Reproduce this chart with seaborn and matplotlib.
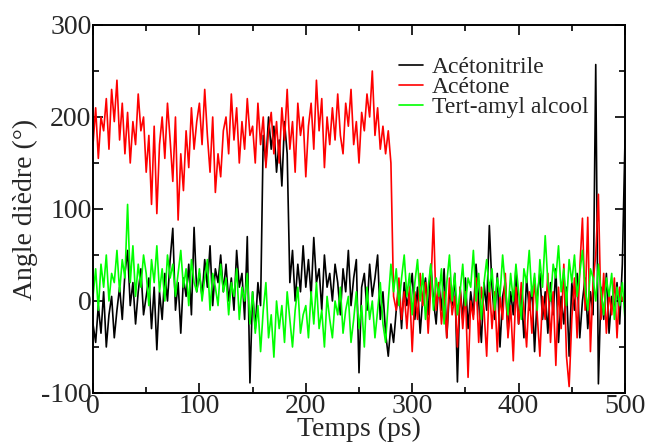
import numpy as np
import pandas as pd
import matplotlib
matplotlib.use("Agg")
import matplotlib.pyplot as plt
from matplotlib.ticker import MultipleLocator
import seaborn as sns

# time grid (ps), one sample every 2.5 ps
temps = np.arange(0, 500.1, 2.5)

acetone = [
    170, 210, 155, 200, 185, 220, 165, 230, 195, 240,
    175, 215, 160, 205, 150, 195, 170, 225, 185, 200,
    140, 180, 105, 190, 95, 170, 200, 155, 215, 175,
    130, 200, 88, 160, 120, 185, 145, 210, 165, 195,
    215, 170, 230, 180, 140, 200, 118, 160, 135, 185,
    200, 160, 225, 175, 210, 150, 195, 165, 220, 180,
    190, 150, 215, 170, 200, 145, 185, 205, 160, 195,
    150, 210, 175, 230, 165, 195, 140, 215, 180, 200,
    135, 190, 215, 165, 240, 185, 220, 145, 200, 170,
    210, 175, 225, 180, 160, 215, 190, 230, 170, 195,
    150, 205, 185, 225, 200, 250, 180, 210, 165, 190,
    160, 185, 150, 5, -10, 25, -20, 10, -30, 15,
    -55, 10, -20, 30, -5, 20, -35, 15, 90, -10,
    20, -25, 10, -40, 25, -15, 5, -50, 15, -30,
    10, -83, 0, -20, 25, -45, 15, -10, -60, 20,
    -30, 10, -55, 5, -20, 30, -40, -5, -65, 15,
    -25, 20, -10, -50, 10, -35, 25, -15, -60, 5,
    -20, 30, -45, 10, -70, 15, -30, 40, -60, -93,
    -20, 25, -40, 35, 90, -10, 91, -55, 20, 50,
    116, -20, 30, -35, 10, -15, 25, -40, 15, 0,
    10,
]

acetonitrile = [
    -25, -45, -5, -35, 10, -50, -15, 5, -40, -10,
    15, -20, 30, 55, -5, 20, -25, 10, 35, -15,
    5, 25, -30, 15, -53, 10, -20, 30, 0, 45,
    79, -10, 20, -35, 25, 5, 40, -15, 80, 10,
    30, 5, 45, 15, 60, -5, 35, 20, 50, 10,
    40, 0, 25, -10, 55, 15, 30, -20, 70, -89,
    10, -30, 20, -5, 180, 150, 200, 165, 190, 140,
    175, 125, 195, 160, 20, 55, 0, 40, 10, 60,
    15, 45, 5, 69, 20, 35, -10, 50, 15, 30,
    0, 40, 20, -15, 35, 10, 55, -5, 25, 45,
    -78, 15, 30, -10, 40, 5, 25, 50, -20, 10,
    -35, -60, -25, -45, -10, 15, -30, 20, -5, 10,
    30, -20, 15, -35, 5, 25, -15, 40, 0, -25,
    20, -10, 35, -40, 10, -5, 30, -88, 15, -20,
    25, -30, 10, -15, 40, 0, -45, 20, -10, 82,
    15, -20, 30, -50, 5, 20, -35, 10, -15, 35,
    -25, 10, -40, 25, -10, 15, -55, 5, 30, -20,
    10, -35, 20, -15, 35, -45, 5, -25, 15, -60,
    20, -10, 30, -40, 0, 25, -30, 10, -15, 257,
    -90, 15, -20, 30, -35, 5, -10, 20, -25, 40,
    175,
]

tert_amyl = [
    5, 35, -10, 40, 15, 50, 0, 30, 20, 55,
    10, 45, 25, 105, 20, 60, 5, 40, 15, 50,
    30, -5, 45, 20, 60, 10, 35, 0, 50, 25,
    40, 5, 30, 55, 15, 35, -5, 45, 20, 10,
    35, 0, 25, 45, -10, 30, 15, -5, 40, 10,
    25, -15, 20, 5, 35, -20, 15, 0, 30, -25,
    10, -35, -5, -55, -10, 20, -40, -15, -61, 0,
    -30, -5, -45, 10, -20, -50, -10, 15, -35, -15,
    -5, -40, 10, -25, 20, -30, -10, -50, 5, -20,
    -40, 0, -15, 15, -35, -10, 5, -45, -20, 10,
    -30, -5, -50, 15, -20, 0, -40, -10, 20, -25,
    -45, 0, 40, 10, 35, -5, 25, 50, 5, 30,
    -15, 20, 45, 0, 30, -20, 15, 40, -10, 25,
    5, 35, -25, 20, 50, 0, 30, -15, 10, 40,
    -5, 25, 15, 55, 0, 30, -20, 20, 45, 10,
    35, -10, 25, 5, 50, 15, -15, 30, 0, 40,
    10, -20, 35, 20, 55, 5, 30, -10, 45, 15,
    71, 20, 0, 40, 25, 60, 10, 35, -5, 45,
    20, 50, 5, 30, 55, 15, -10, 35, 25, 0,
    40, 10, -15, 25, 5, 30, -20, 15, -5, 20,
    -20,
]

series_names = ["Acétonitrile", "Acétone", "Tert-amyl alcool"]
series_colors = ["#000000", "#ff0000", "#00ff00"]

df = pd.concat([
    pd.DataFrame({"Temps": temps, "Angle": acetonitrile, "Solvant": series_names[0]}),
    pd.DataFrame({"Temps": temps, "Angle": acetone, "Solvant": series_names[1]}),
    pd.DataFrame({"Temps": temps, "Angle": tert_amyl, "Solvant": series_names[2]}),
], ignore_index=True)

sns.set_style("ticks")
plt.rcParams["font.family"] = ["Liberation Serif", "DejaVu Serif"]
plt.rcParams["axes.unicode_minus"] = False

fig = plt.figure(figsize=(6.45, 4.46), dpi=100)
ax = fig.add_axes([93 / 645, 1 - 393 / 446, 532 / 645, 368 / 446])

sns.lineplot(data=df, x="Temps", y="Angle", hue="Solvant",
             hue_order=series_names, palette=series_colors,
             estimator=None, sort=False, linewidth=1.2, ax=ax)

ax.set_xlim(0, 500)
ax.set_ylim(-100, 300)
ax.xaxis.set_major_locator(MultipleLocator(100))
ax.xaxis.set_minor_locator(MultipleLocator(50))
ax.yaxis.set_major_locator(MultipleLocator(100))
ax.yaxis.set_minor_locator(MultipleLocator(50))
ax.tick_params(which="both", direction="in", top=True, right=True,
               labelsize=20, color="black", width=1.2)
ax.tick_params(which="major", length=7, pad=1)
ax.tick_params(which="minor", length=4)
for s in ax.spines.values():
    s.set_linewidth(1.4)
    s.set_color("black")

ax.set_xlabel("Temps (ps)", fontsize=20, labelpad=-2)
ax.set_ylabel("Angle dièdre (°)", fontsize=20, labelpad=2)

leg = ax.legend(loc="upper left", bbox_to_anchor=(0.575, 0.915),
                frameon=False, fontsize=17, handlelength=1.0,
                handletextpad=0.4, labelspacing=-0.06, borderpad=0,
                borderaxespad=0)
for line in leg.get_lines():
    line.set_linewidth(1.2)

fig.savefig("out.png", dpi=100)
